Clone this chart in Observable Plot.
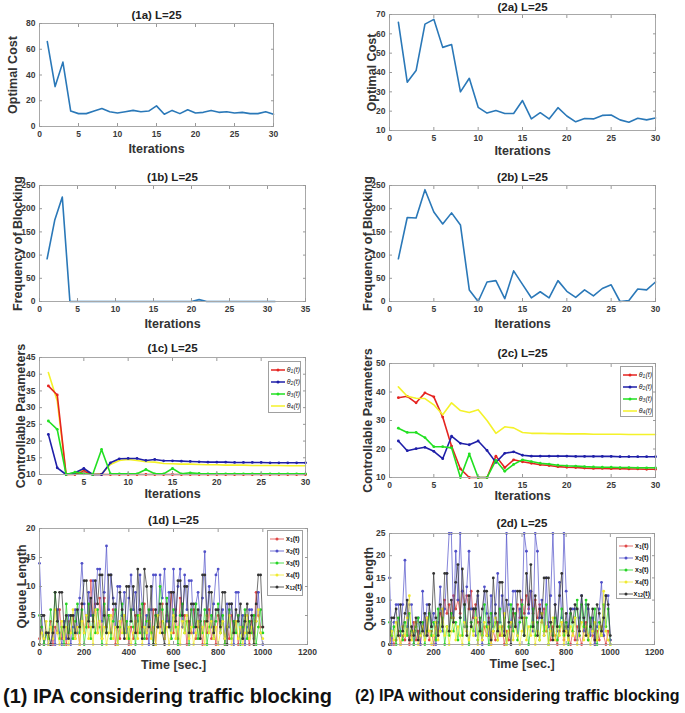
<!DOCTYPE html>
<html><head><meta charset="utf-8">
<script src="https://cdn.jsdelivr.net/npm/d3@7"></script>
<script src="https://cdn.jsdelivr.net/npm/@observablehq/plot@0.6"></script>
<style>
body{margin:0;background:#fff;}
#root{position:relative;width:685px;height:713px;overflow:hidden;background:#fff;font-family:"Liberation Sans",Arial,sans-serif;}
.panel{position:absolute;}
.legend{position:absolute;border:1px solid #a0a0a0;background:#fff;box-sizing:border-box;padding:2px 0 0 2px;}
.lrow{display:flex;align-items:center;height:12px;font-size:7px;color:#222;white-space:nowrap;}
.lrow sub{font-size:5px;vertical-align:-1px;}
.caption{position:absolute;font-weight:bold;color:#111;white-space:nowrap;}
</style></head><body><div id="root"></div><script>
const FONT = '"Liberation Sans", Arial, sans-serif';

// ---------- data ----------
const iterations = d3.range(1, 31);
const iterations31 = d3.range(1, 32);
const times = d3.range(0, 1001, 10);

const cost1 = [66,31,50,12,10,10,12,14,11.5,10.5,11.5,12.5,11.5,12,16,9.5,12.5,10,13,10.5,11,12.5,11,11.5,10.5,11,10,10,11.5,9.5];
const cost2 = [66,35,41,65,67.5,53,54.5,30,37,22,19,20.3,18.8,18.8,25.5,16,19.2,16,21.8,17.5,14.5,16.2,16,17.8,18,15.5,14.3,16.3,15.5,16.5];

const block1 = [92,175,225,0,0,0,0,0,0,0,0,0,0,0,0,0,0,0,0,0,4,0,0,0,0,0,0,0,0,0,0];
const block2 = [92,181,180,241,193,167,191,165,25,0,42,45,6,66,37,8,21,8,45,22,9,25,12,28,36,0,2,27,25,42];

const theta1_1 = [36.5,33.8,10,10,11,10,10,10,10,10,10,10,10,10,10,10,10,10,10,10,10,10,10,10,10,10,10,10,10,10];
const theta2_1 = [22,12,10,10.5,11.8,10,10,13.5,14.7,14.8,14.8,14.2,14.5,14.1,14.1,14,13.9,13.8,13.7,13.7,13.7,13.6,13.6,13.6,13.6,13.5,13.5,13.5,13.5,13.5];
const theta3_1 = [26,23.5,10,10.7,10.2,10,17.5,10.2,10.2,10.2,10.2,11.5,10.2,10.2,11.8,10.2,10.5,10.3,10.2,10.2,10.2,10.2,10.2,10.2,10.2,10.2,10.2,10.2,10.2,10.2];
const theta4_1 = [40.5,32,10,10.2,11.5,10,10.2,13,14.2,14.5,14.2,13.8,13.7,13.3,13.2,13.1,13.1,13,12.9,12.9,12.8,12.8,12.8,12.7,12.7,12.7,12.7,12.6,12.6,12.6];

const theta1_2 = [38,38.5,36.2,39.7,38.3,31.2,21,13,10,10,10,17.5,13.5,16.2,15.5,15,14.5,14.2,13.8,13.6,13.5,13.3,13.2,13.2,13.1,13.1,13,13,12.9,12.9];
const theta2_2 = [22.8,19.4,20.1,20.6,19.2,16.6,24.5,22,21.5,22.8,19.5,15.3,18.5,19,17.8,17.5,17.5,17.5,17.5,17.5,17.4,17.4,17.4,17.4,17.4,17.3,17.3,17.3,17.3,17.3];
const theta3_2 = [27.3,25.8,25.8,24,20.8,20.8,20.4,10,18.3,10,10,16,12.2,14.6,16.2,15.6,15,14.7,14.3,14.1,14,13.8,13.7,13.6,13.6,13.5,13.5,13.4,13.4,13.4];
const theta4_2 = [41.8,38.5,37.8,37.7,35.5,32,36.2,33.5,32.8,33.8,30,25.5,27.8,27.4,25.8,25.5,25.5,25.4,25.4,25.3,25.3,25.3,25.2,25.2,25.2,25.2,25.1,25.1,25.1,25.1];

const q1_x1 = [1,3,0,2,1,4,0,3,2,6, 1,3,0,4,2,5,1,3,0,7, 2,5,3,11,4,7,2,8,1,8, 3,5,2,6,0,3,1,5,2,4, 0,3,1,5,2,6,3,7,1,4, 2,6,0,5,3,7,1,5,3,9, 2,6,1,8,3,5,0,4,2,6, 1,3,5,0,4,2,6,1,3,0, 5,2,4,0,3,1,5,2,4,0, 3,1,5,2,0,4,2,9,5,3,3];
const q1_x2 = [14,5,0,2,0,0,3,0,6,2, 0,4,1,5,0,3,6,2,8,14, 7,3,9,5,11,6,13,13,4,9, 17,6,12,8,3,10,10,5,9,2, 8,12,6,9,4,12,7,2,5,0, 6,12,12,3,12,8,13,4,9,1, 13,5,10,13,3,12,6,11,11,2, 7,9,4,8,16,5,10,3,7,12, 13,4,6,1,7,3,7,0,9,9, 2,5,0,3,6,6,1,4,9,2,0];
const q1_x3 = [5,3,0,2,1,6,2,9,4,1, 3,0,7,2,5,1,4,7,2,6, 0,3,7,1,5,2,6,3,0,7, 2,5,1,4,6,0,3,7,2,4, 1,6,3,0,5,2,7,1,4,6, 2,0,5,3,10,6,2,8,4,1, 6,3,0,5,7,2,4,0,6,3, 7,1,4,2,6,0,3,5,1,4, 7,2,5,0,3,6,1,4,2,5, 0,3,6,1,4,2,5,0,3,6,2];
const q1_x4 = [0,2,1,4,0,3,1,6,2,0, 4,1,3,0,2,6,1,3,0,4, 2,5,1,3,0,6,2,4,1,3, 0,2,5,1,3,0,4,2,5,1, 3,0,2,4,1,5,0,3,2,4, 1,3,0,5,2,4,1,3,0,2, 5,1,3,0,4,2,5,1,3,0, 2,4,1,3,0,5,2,4,1,3, 0,2,4,1,3,5,0,2,4,1, 3,0,2,5,1,3,0,4,6,2,1];
const q1_x12 = [0,5,5,2,2,0,2,9,4,9, 9,3,5,1,5,5,2,6,3,7, 11,11,4,8,3,11,7,12,12,5, 2,12,12,7,7,3,9,6,1,10, 10,4,10,2,13,6,1,13,10,3, 10,0,6,3,7,2,0,7,3,9, 9,4,11,11,5,10,10,2,7,7, 3,6,1,12,12,4,9,9,2,6, 6,3,9,9,0,7,7,2,6,4, 7,1,4,7,2,5,0,7,12,12,3];

const q2_x1 = [0,2,0,1,3,0,2,1,4,0, 2,5,1,3,0,4,2,6,1,3, 0,4,2,7,5,10,7,9,6,11, 8,10,7,12,9,11,8,12,6,9, 5,3,1,4,2,6,0,3,1,5, 2,4,0,3,1,5,7,4,9,6, 10,7,11,8,12,7,10,6,9,5, 8,3,5,1,4,2,0,3,5,1, 4,2,0,3,1,4,2,0,3,5, 1,4,2,0,3,1,4,2,0,3,1];
const q2_x2 = [15,0,5,9,9,2,9,19,4,9, 9,0,3,6,0,12,2,9,9,4, 7,0,5,13,3,8,16,25,25,6, 21,10,25,12,4,13,21,8,8,2, 11,5,0,13,7,2,11,4,9,16, 5,11,3,25,9,4,12,12,2,8, 6,25,21,7,12,3,25,21,6,10, 2,15,4,11,25,9,3,14,6,25, 12,4,8,8,8,1,6,11,3,9, 8,2,6,0,4,8,14,2,11,11,1];
const q2_x3 = [5,2,4,0,6,3,1,5,2,7, 3,0,4,6,2,5,0,3,7,2, 5,1,8,3,6,0,4,2,7,3, 5,1,6,2,9,4,0,5,3,8, 1,6,2,9,4,0,7,3,5,1, 8,2,6,0,4,9,3,7,1,5, 9,2,6,0,4,8,2,5,1,7, 3,9,0,5,2,6,1,4,8,2, 5,0,7,3,6,10,2,9,4,10, 1,6,3,8,0,5,2,9,4,8,0];
const q2_x4 = [0,3,1,5,2,0,4,2,6,11, 1,3,5,0,2,4,1,6,3,0, 2,5,1,3,8,2,4,0,3,6, 1,4,2,0,5,3,1,4,2,6, 0,3,1,5,2,4,0,3,6,1, 4,2,7,0,3,5,1,4,2,0, 3,6,1,4,2,5,0,3,1,7, 2,4,0,3,6,1,4,2,5,0, 3,1,4,2,6,0,3,5,1,4, 2,0,3,5,1,4,2,12,3,1,0];
const q2_x12 = [0,6,6,8,2,9,3,7,10,1, 4,2,6,1,5,3,7,2,9,4, 16,6,2,9,4,16,16,3,10,5, 14,18,6,17,9,2,11,4,8,8, 12,3,8,12,12,5,1,15,7,3, 14,14,2,10,5,0,8,4,12,12, 6,2,16,9,18,4,11,2,8,6, 15,15,15,5,1,9,4,11,16,3, 7,2,8,5,9,8,3,11,6,2, 9,4,8,1,9,7,3,6,11,9,2];

const thetaNames = ["θ<sub>1</sub>(t)","θ<sub>2</sub>(t)","θ<sub>3</sub>(t)","θ<sub>4</sub>(t)"];
const queueNames = ["x<sub>1</sub>(t)","x<sub>2</sub>(t)","x<sub>3</sub>(t)","x<sub>4</sub>(t)","x<sub>12</sub>(t)"];
const titles = ["(1a) L=25","(2a) L=25","(1b) L=25","(2b) L=25","(1c) L=25","(2c) L=25","(1d) L=25","(2d) L=25"];
const yLabels = ["Optimal Cost","Frequency of Blocking","Controllable Parameters","Queue Length"];
const xLabels = ["Iterations","Time [sec.]"];
const captions = ["(1) IPA  considering traffic blocking","(2) IPA without considering traffic blocking"];

const ticks0_30 = [0,5,10,15,20,25,30];
const ticks0_35 = [0,5,10,15,20,25,30,35];
const ticksCost1 = [0,20,40,60,80];
const ticksCost2 = [10,20,30,40,50,60,70];
const ticksBlock = [0,50,100,150,200,250];
const ticksTheta1 = [10,15,20,25,30,35,40,45];
const ticksTheta2 = [10,20,30,40,50];
const ticksTime = [0,200,400,600,800,1000,1200];
const ticksQ1 = [0,5,10,15,20];
const ticksQ2 = [0,5,10,15,20,25];

// ---------- styles ----------
const BLUE = "#2a78b8";
const thetaColors = ["#e52420","#1f1fa8","#22e022","#f4f22a"];
const thetaDots = [true,true,true,false];
const queueColors = ["#e04848","#5050c8","#26d426","#f0ea30","#333333"];

const root = document.getElementById("root");
const fmt = d => String(d);

function panel(c) {
  const axisText = {fontSize: 8.5, fontWeight: "bold", fill: "#3a3a3a", label: null, tickFormat: fmt};
  const plot = Plot.plot({
    width: c.width, height: c.height,
    marginLeft: c.ml, marginRight: c.mr, marginTop: c.mt, marginBottom: c.mb,
    style: {fontFamily: FONT, background: "transparent", overflow: "visible"},
    x: {domain: c.xDomain}, y: {domain: c.yDomain},
    marks: [
      ...c.marks,
      Plot.frame({stroke: "#a8a8a8"}),
      Plot.axisX(c.xTicks, {anchor: "bottom", tickSize: 0, tickPadding: 4, ...axisText}),
      Plot.axisY(c.yTicks, {anchor: "left", tickSize: 0, tickPadding: 4, ...axisText}),
      Plot.axisX(c.xTicks, {anchor: "bottom", tickSize: 3, dy: -3, fill: "none", stroke: "#999", label: null}),
      Plot.axisX(c.xTicks, {anchor: "top", tickSize: 3, dy: 3, fill: "none", stroke: "#999", label: null}),
      Plot.axisY(c.yTicks, {anchor: "left", tickSize: 3, dx: 3, fill: "none", stroke: "#999", label: null}),
      Plot.axisY(c.yTicks, {anchor: "right", tickSize: 3, dx: -3, fill: "none", stroke: "#999", label: null}),
      Plot.text([c.title], {text: d => d, frameAnchor: "top", lineAnchor: "middle", textAnchor: "middle", dy: -c.titleOff, fontSize: 11.5, fontWeight: "bold", fill: "#222"}),
      Plot.text([c.xLabel], {text: d => d, frameAnchor: "bottom", lineAnchor: "middle", textAnchor: "middle", dy: c.xOff, fontSize: 12.5, fontWeight: "bold", fill: "#333"}),
      Plot.text([c.yLabel], {text: d => d, frameAnchor: "left", lineAnchor: "middle", textAnchor: "middle", dx: -c.yOff, rotate: -90, fontSize: 12.5, fontWeight: "bold", fill: "#333"})
    ]
  });
  plot.classList.add("panel");
  plot.style.left = c.left + "px";
  plot.style.top = c.top + "px";
  root.appendChild(plot);
}

function seriesMarks(xs, ys, color, width, dots) {
  const m = [Plot.line(ys, {x: (d, i) => xs[i], y: d => d, stroke: color, strokeWidth: width})];
  if (dots) m.push(Plot.dot(ys, {x: (d, i) => xs[i], y: d => d, r: 1.4, fill: color, stroke: "none"}));
  return m;
}

function legend(left, top, w, h, names, colors, dots, lw) {
  const div = document.createElement("div");
  div.className = "legend";
  Object.assign(div.style, {left: left + "px", top: top + "px", width: w + "px", height: h + "px"});
  names.forEach((n, i) => {
    const row = document.createElement("div");
    row.className = "lrow";
    row.innerHTML = `<svg width="15" height="6" style="margin-right:1px"><line x1="0" x2="14" y1="3" y2="3" stroke="${colors[i]}" stroke-width="${lw}"/>${dots[i] ? `<circle cx="7" cy="3" r="1.5" fill="${colors[i]}"/>` : ""}</svg><span style="${n.startsWith("θ") ? "font-style:italic" : "font-weight:bold"}">${n}</span>`;
    div.appendChild(row);
  });
  root.appendChild(div);
}

// (1a)
panel({left: 0, top: 0, width: 300, height: 160, ml: 39, mr: 27, mt: 23, mb: 34,
  xDomain: [0, 30], yDomain: [0, 80], xTicks: ticks0_30, yTicks: ticksCost1,
  title: titles[0], xLabel: xLabels[0], yLabel: yLabels[0], titleOff: 8, xOff: 22, yOff: 27,
  marks: seriesMarks(iterations, cost1, BLUE, 1.6, false)});
// (2a)
panel({left: 340, top: 0, width: 345, height: 160, ml: 49, mr: 30, mt: 14, mb: 30,
  xDomain: [0, 30], yDomain: [10, 70], xTicks: ticks0_30, yTicks: ticksCost2,
  title: titles[1], xLabel: xLabels[0], yLabel: yLabels[0], titleOff: 7, xOff: 20, yOff: 18,
  marks: seriesMarks(iterations, cost2, BLUE, 1.6, false)});
// (1b)
panel({left: 0, top: 160, width: 320, height: 170, ml: 39, mr: 15, mt: 25, mb: 29,
  xDomain: [0, 35], yDomain: [0, 250], xTicks: ticks0_35, yTicks: ticksBlock,
  title: titles[2], xLabel: xLabels[0], yLabel: yLabels[1], titleOff: 8, xOff: 22, yOff: 22,
  marks: seriesMarks(iterations31, block1, BLUE, 1.6, false)});
// (2b)
panel({left: 340, top: 160, width: 345, height: 170, ml: 49, mr: 30, mt: 25, mb: 29,
  xDomain: [0, 30], yDomain: [0, 250], xTicks: ticks0_30, yTicks: ticksBlock,
  title: titles[3], xLabel: xLabels[0], yLabel: yLabels[1], titleOff: 8, xOff: 22, yOff: 22,
  marks: seriesMarks(iterations, block2, BLUE, 1.6, false)});
// (1c)
panel({left: 0, top: 330, width: 320, height: 175, ml: 39, mr: 15, mt: 27, mb: 31,
  xDomain: [0, 30], yDomain: [10, 45], xTicks: ticks0_30, yTicks: ticksTheta1,
  title: titles[4], xLabel: xLabels[0], yLabel: yLabels[2], titleOff: 9, xOff: 19, yOff: 19,
  marks: [theta4_1, theta1_1, theta2_1, theta3_1].flatMap((s, k) => {
    const idx = [3, 0, 1, 2][k];
    return seriesMarks(iterations, s, thetaColors[idx], 1.6, thetaDots[idx]);
  })});
// (2c)
panel({left: 340, top: 330, width: 345, height: 175, ml: 49, mr: 30, mt: 33, mb: 28,
  xDomain: [0, 30], yDomain: [10, 50], xTicks: ticks0_30, yTicks: ticksTheta2,
  title: titles[5], xLabel: xLabels[0], yLabel: yLabels[2], titleOff: 10, xOff: 18, yOff: 22,
  marks: [theta1_2, theta2_2, theta3_2, theta4_2].flatMap((s, i) => seriesMarks(iterations, s, thetaColors[i], 1.6, thetaDots[i]))});
// (1d)
panel({left: 0, top: 505, width: 320, height: 170, ml: 39, mr: 13, mt: 23, mb: 31,
  xDomain: [0, 1200], yDomain: [0, 20], xTicks: ticksTime, yTicks: ticksQ1,
  title: titles[6], xLabel: xLabels[1], yLabel: yLabels[3], titleOff: 8, xOff: 20, yOff: 18,
  marks: [q1_x1, q1_x2, q1_x3, q1_x4, q1_x12].flatMap((s, i) => seriesMarks(times, s, queueColors[i], 0.7, true))});
// (2d)
panel({left: 340, top: 505, width: 345, height: 170, ml: 49, mr: 31, mt: 28, mb: 31,
  xDomain: [0, 1200], yDomain: [0, 25], xTicks: ticksTime, yTicks: ticksQ2,
  title: titles[7], xLabel: xLabels[1], yLabel: yLabels[3], titleOff: 10, xOff: 19, yOff: 21,
  marks: [q2_x1, q2_x2, q2_x3, q2_x4, q2_x12].flatMap((s, i) => seriesMarks(times, s, queueColors[i], 0.7, true))});

// legends
legend(268, 361, 33, 52, thetaNames, thetaColors, thetaDots, 1.5);
legend(620, 366, 33, 51, thetaNames, thetaColors, thetaDots, 1.5);
legend(267, 530, 36, 66, queueNames, queueColors, [true,true,true,true,true], 0.8);
legend(616, 537, 35, 62, queueNames, queueColors, [true,true,true,true,true], 0.8);

// captions
const c1 = document.createElement("div");
c1.className = "caption"; c1.textContent = captions[0];
Object.assign(c1.style, {left: "3px", top: "685px", fontSize: "20px"});
root.appendChild(c1);
const c2 = document.createElement("div");
c2.className = "caption"; c2.textContent = captions[1];
Object.assign(c2.style, {left: "355px", top: "687px", fontSize: "16px"});
root.appendChild(c2);
</script></body></html>
